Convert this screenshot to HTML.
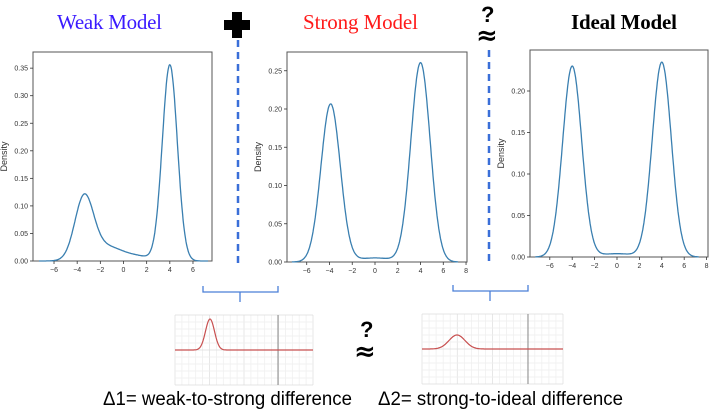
<!DOCTYPE html>
<html><head><meta charset="utf-8"><style>
html,body{margin:0;padding:0;background:#fff;width:713px;height:413px;overflow:hidden}
svg{display:block}
.t{font-family:"Liberation Sans",sans-serif;font-size:7px;fill:#333}
.ser{font-family:"Liberation Serif",serif;font-size:21px}
</style></head><body>
<svg id="s" width="713" height="413" xmlns="http://www.w3.org/2000/svg">
<text x="57" y="29" class="ser" fill="#3a1aff" textLength="105" lengthAdjust="spacing">Weak Model</text>
<text x="303" y="29" class="ser" fill="#ff1a1a" textLength="115" lengthAdjust="spacing">Strong Model</text>
<text x="571" y="29" class="ser" fill="#000" font-weight="bold" textLength="106" lengthAdjust="spacing">Ideal Model</text>
<path d="M232 12h10v8h8v10h-8v8h-10v-8h-8v-10h8z" fill="#000"/>
<line x1="238" y1="40" x2="238" y2="266" stroke="#3a6fd8" stroke-width="2.5" stroke-dasharray="7,5"/>
<text x="481" y="22" font-family="Liberation Sans,sans-serif" font-weight="bold" font-size="22" fill="#000">?</text>
<text x="476" y="44" font-family="DejaVu Sans,sans-serif" font-weight="bold" font-size="26" fill="#000">≈</text>
<line x1="489" y1="50" x2="489" y2="266" stroke="#3a6fd8" stroke-width="2.5" stroke-dasharray="7,5"/>
<path d="M203 286v6h75v-6M240 292v10" fill="none" stroke="#4a7fd8" stroke-width="1.3"/>
<path d="M453 285v6h75v-6M490 291v10" fill="none" stroke="#4a7fd8" stroke-width="1.3"/>
<text x="360" y="337" font-family="Liberation Sans,sans-serif" font-weight="bold" font-size="22" fill="#000">?</text>
<text x="354" y="360" font-family="DejaVu Sans,sans-serif" font-weight="bold" font-size="26" fill="#000">≈</text>
<text x="103" y="405" font-family="Liberation Sans,sans-serif" font-size="19" fill="#000" textLength="249" lengthAdjust="spacingAndGlyphs">Δ1= weak-to-strong difference</text>
<text x="378" y="405" font-family="Liberation Sans,sans-serif" font-size="19" fill="#000" textLength="245" lengthAdjust="spacingAndGlyphs">Δ2= strong-to-ideal difference</text>
<g id="g"></g>
</svg>
<script>
var g=document.getElementById('g'),h='';
function N(x,m,s){return Math.exp(-0.5*((x-m)/s)**2)/(s*2.5066);}
function plot(o){
 h+='<rect x="'+o.l+'" y="'+o.t+'" width="'+(o.r-o.l)+'" height="'+(o.b-o.t)+'" fill="none" stroke="#555" stroke-width="1"/>';
 o.xt.forEach(function(v){var X=o.x0+v*o.kx;h+='<line x1="'+X+'" y1="'+o.b+'" x2="'+X+'" y2="'+(o.b+3)+'" stroke="#333" stroke-width="0.8"/><text class="t" x="'+X+'" y="'+(o.b+11)+'" text-anchor="middle">'+(v<0?'−'+(-v):v)+'</text>';});
 o.yt.forEach(function(v){var Y=o.b-v*o.ky;h+='<line x1="'+(o.l-3)+'" y1="'+Y+'" x2="'+o.l+'" y2="'+Y+'" stroke="#333" stroke-width="0.8"/><text class="t" x="'+(o.l-5)+'" y="'+(Y+2.5)+'" text-anchor="end">'+v.toFixed(2)+'</text>';});
 h+='<text class="t" style="font-size:9px" transform="translate('+(o.l-26)+','+((o.t+o.b)/2)+') rotate(-90)" text-anchor="middle">Density</text>';
 var p='';for(var x=-7.3;x<=7.3;x+=0.05){var y=o.f(x);p+=(p?'L':'M')+(o.x0+x*o.kx).toFixed(1)+' '+(o.b-y*o.ky).toFixed(1);}
 h+='<path d="'+p+'" fill="none" stroke="#3a7fb0" stroke-width="1.3"/>';
}
plot({l:33,r:212,t:52,b:261,x0:123.5,kx:11.58,ky:551,xt:[-6,-4,-2,0,2,4,6],yt:[0,0.05,0.1,0.15,0.2,0.25,0.3,0.35],
 f:function(x){return 0.22*N(x,-3.4,0.8)+0.1*N(x,-1.5,1.5)+0.015*N(x,1.5,1.0)+0.58*N(x,4,0.65);}});
plot({l:287,r:467,t:52,b:262,x0:375,kx:11.38,ky:765,xt:[-6,-4,-2,0,2,4,6,8],yt:[0,0.05,0.1,0.15,0.2,0.25],
 f:function(x){return 0.44*N(x,-3.9,0.85)+0.555*N(x,4,0.85)+0.02*N(x,0,1.5);}});
plot({l:530,r:708,t:50,b:257,x0:617,kx:11.2,ky:830,xt:[-6,-4,-2,0,2,4,6,8],yt:[0,0.05,0.1,0.15,0.2],
 f:function(x){return 0.49*N(x,-4,0.85)+0.5*N(x,4,0.85)+0.015*N(x,0,1.5);}});
function mini(l,t,w,hh,ax,ay,px,pw,ph){
 var s='<rect x="'+l+'" y="'+t+'" width="'+w+'" height="'+hh+'" fill="#fff"/>';
 for(var i=0;i<=20;i++){var X=l+i*w/20;s+='<line x1="'+X+'" y1="'+t+'" x2="'+X+'" y2="'+(t+hh)+'" stroke="'+(i%5?'#eee':'#ddd')+'" stroke-width="0.7"/>';}
 for(var j=0;j<=10;j++){var Y=t+j*hh/10;s+='<line x1="'+l+'" y1="'+Y+'" x2="'+(l+w)+'" y2="'+Y+'" stroke="'+(j%5?'#eee':'#ddd')+'" stroke-width="0.7"/>';}
 s+='<line x1="'+ax+'" y1="'+t+'" x2="'+ax+'" y2="'+(t+hh)+'" stroke="#888" stroke-width="1"/>';
 var p='';for(var X=l;X<=l+w;X+=0.5){var Y=ay-ph*Math.exp(-0.5*((X-px)/pw)**2);p+=(p?'L':'M')+X.toFixed(1)+' '+Y.toFixed(1);}
 s+='<path d="'+p+'" fill="none" stroke="#c85050" stroke-width="1.2"/>';
 h+=s;
}
mini(175,315,138,70,278,350,210,4.5,31);
mini(422,314,141,70,528,349,457,8,14);
g.innerHTML=h;
</script>
</body></html>
